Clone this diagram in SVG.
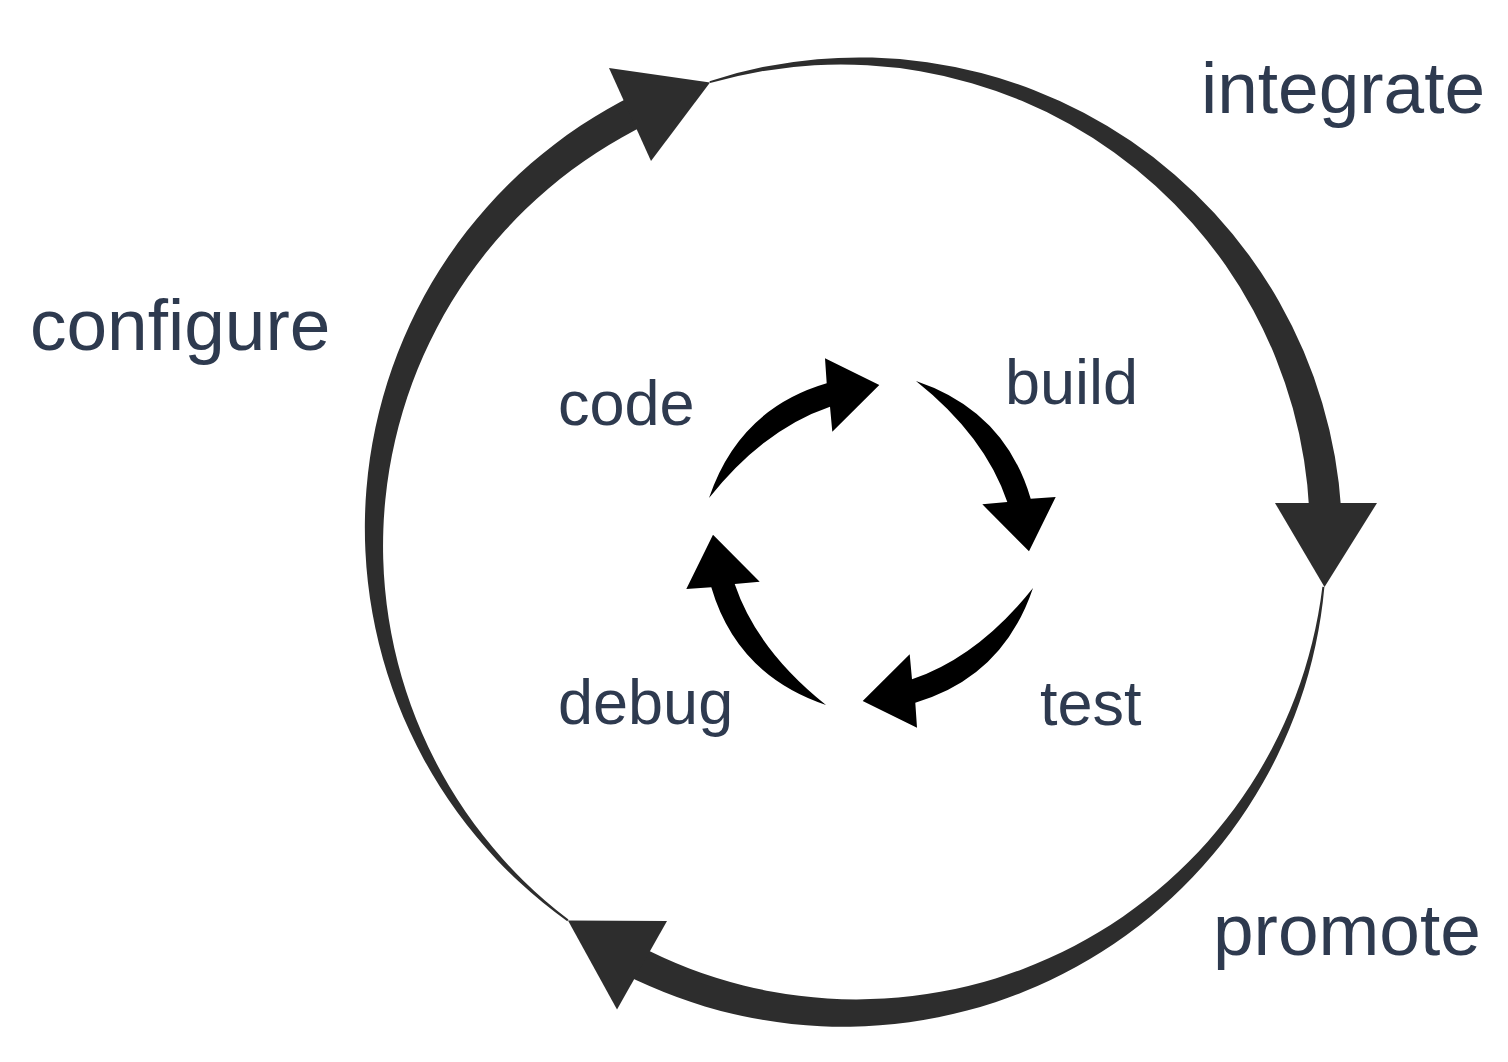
<svg xmlns="http://www.w3.org/2000/svg" width="1508" height="1062" viewBox="0 0 1508 1062">
  <defs>
    <style>
      .lbl { font-family: "Liberation Sans", Arial, Helvetica, sans-serif; fill: #2e3a4f; }
      .outer { font-size: 73px; }
      .inner { font-size: 63px; }
      .oarc { fill: #2d2d2d; stroke: none; }
      .iarr { fill: #000000; stroke: none; }
    </style>
    <path id="innerArrow" d="M 709,498 Q 739,409 826.7,383.3 L 825,358.3 L 879.3,385 L 832.3,431.7 L 830,406.7 Q 764,429 709,498 Z"/>
  </defs>
  <rect width="1508" height="1062" fill="#ffffff"/>

  <g id="connectors">
    <g id="outer-cycle">
      <path class="oarc" d="M 567.28,921.18 A 483,483 0 0 1 634.32,94.8 L 648.35,123.56 A 469,469 0 0 0 568.47,919.57 Z"/>
      <polygon class="oarc" points="609,68 710,82.5 651,161"/>
      <path class="oarc" d="M 709.48,81.18 A 483,483 0 0 1 1341.33,511.25 L 1309.37,512.92 A 469,469 0 0 0 710.06,83.09 Z"/>
      <polygon class="oarc" points="1275,503 1377,503 1324.5,587"/>
      <path class="oarc" d="M 1324.38,586.94 A 483,483 0 0 1 622.82,973.41 L 637.59,945.02 A 469,469 0 0 0 1322.39,586.73 Z"/>
      <polygon class="oarc" points="667,921 617,1009.5 568,920.5"/>
    </g>
    <g id="inner-cycle">
      <use href="#innerArrow" class="iarr"/>
      <use href="#innerArrow" class="iarr" transform="rotate(90 871 543)"/>
      <use href="#innerArrow" class="iarr" transform="rotate(180 871 543)"/>
      <use href="#innerArrow" class="iarr" transform="rotate(270 871 543)"/>
    </g>
  </g>

  <g id="node-integrate"><text class="lbl outer" x="1201" y="113">integrate</text></g>
  <g id="node-configure"><text class="lbl outer" x="30" y="350">configure</text></g>
  <g id="node-promote"><text class="lbl outer" x="1213" y="955">promote</text></g>
  <g id="node-code"><text class="lbl inner" x="558" y="425">code</text></g>
  <g id="node-build"><text class="lbl inner" x="1005" y="404">build</text></g>
  <g id="node-test"><text class="lbl inner" x="1040" y="725">test</text></g>
  <g id="node-debug"><text class="lbl inner" x="558" y="724">debug</text></g>
</svg>
